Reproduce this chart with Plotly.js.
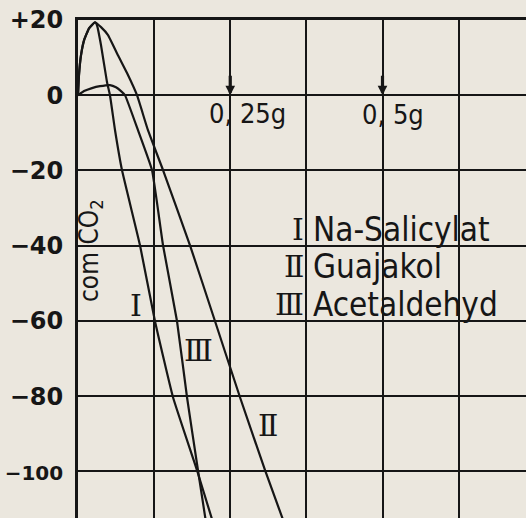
<!DOCTYPE html>
<html>
<head>
<meta charset="utf-8">
<script src="https://cdn.plot.ly/plotly-3.0.1.min.js"></script>
<style>html,body{margin:0;padding:0;background:#ebe7de;}#chart{width:526px;height:518px;}</style>
</head>
<body>
<div id="chart"></div>
<script>
// ---- data (dose in g, CO2 in cmm) ----
const seriesNames = ["Na-Salicylat", "Guajakol", "Acetaldehyd"];
const seriesNumerals = ["\u2160", "\u2161", "\u2162"];

const curveI_x = [0, 0.0016, 0.0049, 0.0099, 0.0181, 0.0279, 0.0312, 0.0378, 0.0476, 0.0525, 0.0608, 0.0722, 0.1018, 0.1264, 0.1560, 0.1954, 0.2217];
const curveI_y = [0, 5.3, 10.6, 14.6, 17.8, 19.4, 18.6, 13.3, 3.5, 0, -9.3, -19.9, -39.9, -60.1, -80.3, -99.7, -113.6];

const curveII_x = [0, 0.0016, 0.0049, 0.0099, 0.0181, 0.0279, 0.0378, 0.0493, 0.0657, 0.0805, 0.0969, 0.1149, 0.1396, 0.1839, 0.2250, 0.2660, 0.3071, 0.3383];
const curveII_y = [0, 5.3, 10.6, 14.6, 17.8, 19.4, 18.1, 16.0, 10.6, 5.9, 0, -9.3, -19.9, -39.9, -60.1, -80.3, -99.7, -113.6];

const curveIII_x = [0, 0.0099, 0.0230, 0.0361, 0.0525, 0.0624, 0.0706, 0.0772, 0.0985, 0.1215, 0.1396, 0.1626, 0.1790, 0.1970, 0.2102];
const curveIII_y = [0, 1.1, 1.9, 2.4, 2.7, 2.1, 1.1, 0, -9.3, -19.9, -39.9, -60.1, -80.3, -99.7, -113.6];

const yTickVals = [20, 0, -20, -40, -60, -80, -100];
const yTickText = ["+20", "0", "\u221220", "\u221240", "\u221260", "\u221280", "<span style='font-size:20px'>\u2212100</span>"];
const doseMarks = [0.25, 0.5];
const doseLabels = ["0, 25g", "0, 5g"];
const yTitle = "com CO<sub>2</sub>";

// ---- layout helpers ----
const W = 526, H = 518, L = 78, T = 20;
const ink = "#161616";
const bg = "#ebe7de";
function P(px, py) { return { xref: "paper", yref: "paper", x: (px - L) / (W - L), y: (H - py) / (H - T) }; }

const lineStyle = { color: ink, width: 2.2, shape: "spline", smoothing: 0.35 };
const traces = [
  { x: curveI_x, y: curveI_y, name: seriesNames[0], mode: "lines", line: lineStyle, hoverinfo: "skip" },
  { x: curveII_x, y: curveII_y, name: seriesNames[1], mode: "lines", line: lineStyle, hoverinfo: "skip" },
  { x: curveIII_x, y: curveIII_y, name: seriesNames[2], mode: "lines", line: lineStyle, hoverinfo: "skip" }
];

const annotations = [];
// dose arrows and labels
doseMarks.forEach((d, i) => {
  annotations.push({ x: d, y: 0, xref: "x", yref: "y", text: "", showarrow: true, ax: 0, ay: -21,
    arrowhead: 2, arrowsize: 0.6, arrowwidth: 3.2, arrowcolor: ink, standoff: 0 });
});
annotations.push(Object.assign(P(247, 113), { text: doseLabels[0], showarrow: false, xanchor: "center", yanchor: "middle",
  font: { family: "DejaVu Sans Condensed", size: 27, color: ink } }));
annotations.push(Object.assign(P(393, 114), { text: doseLabels[1], showarrow: false, xanchor: "center", yanchor: "middle",
  font: { family: "DejaVu Sans Condensed", size: 27, color: ink } }));
// y title (rotated)
annotations.push(Object.assign(P(90, 251), { text: yTitle, showarrow: false, textangle: -90, xanchor: "center", yanchor: "middle",
  font: { family: "DejaVu Sans Condensed", size: 26, color: ink } }));
// legend block
const legendRows = [229, 266, 304];
seriesNames.forEach((nm, i) => {
  annotations.push(Object.assign(P(306, legendRows[i]), { text: seriesNumerals[i], showarrow: false, xanchor: "right", yanchor: "middle",
    font: { family: "DejaVu Serif", size: 30, color: ink } }));
  annotations.push(Object.assign(P(311, legendRows[i]), { text: nm, showarrow: false, xanchor: "left", yanchor: "middle",
    font: { family: "DejaVu Sans Condensed", size: 33, color: ink } }));
});
// curve labels
const curveLabelPos = [[136, 305], [268, 425], [198, 350]];
curveLabelPos.forEach((p, i) => {
  annotations.push(Object.assign(P(p[0], p[1]), { text: seriesNumerals[i], showarrow: false, xanchor: "center", yanchor: "middle",
    font: { family: "DejaVu Serif", size: 30, color: ink } }));
});

const layout = {
  width: W, height: H,
  margin: { l: L, r: 0, t: T, b: 0, pad: 0 },
  paper_bgcolor: bg, plot_bgcolor: bg,
  showlegend: false,
  xaxis: { range: [0, (W - L) / 609], tick0: 0, dtick: 0.125, showgrid: true, gridcolor: ink, gridwidth: 2,
    showticklabels: false, ticks: "", zeroline: false, showline: true, side: "top", linecolor: ink, linewidth: 3, fixedrange: true },
  yaxis: { range: [-112.4, 20], tickvals: yTickVals, ticktext: yTickText, showgrid: true, gridcolor: ink, gridwidth: 2,
    zeroline: false, showline: true, linecolor: ink, linewidth: 3, ticks: "", ticklabelstandoff: 7,
    tickfont: { family: "DejaVu Sans", size: 24, weight: "bold", color: ink }, fixedrange: true },
  annotations: annotations
};

Plotly.newPlot("chart", traces, layout, { staticPlot: true, displayModeBar: false });
</script>
</body>
</html>
